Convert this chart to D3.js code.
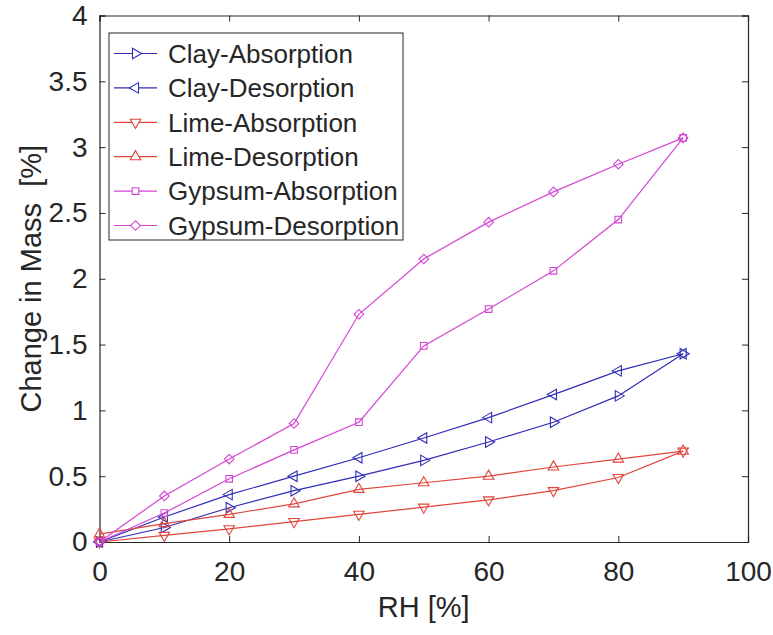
<!DOCTYPE html>
<html>
<head>
<meta charset="utf-8">
<script src="https://cdn.jsdelivr.net/npm/d3@7"></script>
<style>
  html, body { margin: 0; padding: 0; background: #fff; }
  svg text { font-family: "Liberation Sans", Arial, Helvetica, sans-serif; fill: #262626; }
</style>
</head>
<body>
<svg id="chart" width="773" height="635"></svg>
<script>
// Relative humidity steps (%)
const rh = [0, 10, 20, 30, 40, 50, 60, 70, 80, 90];

// Change in mass (%) for each material and sorption direction
const clayAbsorption   = [0, 0.11, 0.26, 0.39, 0.50, 0.62, 0.76, 0.91, 1.11, 1.43];
const clayDesorption   = [0, 0.19, 0.36, 0.50, 0.64, 0.79, 0.945, 1.12, 1.30, 1.43];
const limeAbsorption   = [0, 0.05, 0.10, 0.155, 0.21, 0.265, 0.32, 0.39, 0.49, 0.69];
const limeDesorption   = [0.06, 0.14, 0.21, 0.29, 0.40, 0.45, 0.50, 0.57, 0.63, 0.69];
const gypsumAbsorption = [0, 0.22, 0.48, 0.70, 0.91, 1.49, 1.77, 2.06, 2.45, 3.07];
const gypsumDesorption = [0, 0.35, 0.63, 0.90, 1.73, 2.15, 2.43, 2.66, 2.87, 3.07];

const seriesNames = ["Clay-Absorption", "Clay-Desorption", "Lime-Absorption",
                     "Lime-Desorption", "Gypsum-Absorption", "Gypsum-Desorption"];
const xTicks = [0, 20, 40, 60, 80, 100];
const yTicks = [0, 0.5, 1, 1.5, 2, 2.5, 3, 3.5, 4];

const blue = "#2e2eb8", red = "#e0463c", magenta = "#d444d4";
const series = [
  { name: seriesNames[0], values: clayAbsorption,   color: blue,    marker: "triRight" },
  { name: seriesNames[1], values: clayDesorption,   color: blue,    marker: "triLeft" },
  { name: seriesNames[2], values: limeAbsorption,   color: red,     marker: "triDown" },
  { name: seriesNames[3], values: limeDesorption,   color: red,     marker: "triUp" },
  { name: seriesNames[4], values: gypsumAbsorption, color: magenta, marker: "square" },
  { name: seriesNames[5], values: gypsumDesorption, color: magenta, marker: "diamond" }
];

const svg = d3.select("#chart");
const plot = { left: 99.5, top: 15.5, right: 748, bottom: 542 };

const x = d3.scaleLinear().domain([0, 100]).range([plot.left, plot.right]);
const y = d3.scaleLinear().domain([0, 4]).range([plot.bottom, plot.top]);

// Marker shapes
function markerPath(kind) {
  switch (kind) {
    case "triUp":    return { d: d3.symbol(d3.symbolTriangle, 48)(), rot: 0 };
    case "triDown":  return { d: d3.symbol(d3.symbolTriangle, 48)(), rot: 180 };
    case "triLeft":  return { d: d3.symbol(d3.symbolTriangle, 48)(), rot: -90 };
    case "triRight": return { d: d3.symbol(d3.symbolTriangle, 48)(), rot: 90 };
    case "square":   return { d: d3.symbol(d3.symbolSquare, 44)(), rot: 0 };
    case "diamond":  return { d: d3.symbol(d3.symbolSquare, 46)(), rot: 45 };
  }
}

// Axes box with inward ticks on all four sides
const tickLen = 6;
const axisColor = "#262626";

const gx = svg.append("g").attr("transform", `translate(0,${plot.bottom})`)
  .call(d3.axisBottom(x).tickValues(xTicks).tickSize(-tickLen).tickPadding(19).tickFormat(d3.format("d")));
const gxTop = svg.append("g").attr("transform", `translate(0,${plot.top})`)
  .call(d3.axisTop(x).tickValues(xTicks).tickSize(-tickLen).tickFormat(""));
const gy = svg.append("g").attr("transform", `translate(${plot.left},0)`)
  .call(d3.axisLeft(y).tickValues(yTicks).tickSize(-tickLen).tickPadding(12).tickFormat(d => d3.format("")(d)));
const gyRight = svg.append("g").attr("transform", `translate(${plot.right},0)`)
  .call(d3.axisRight(y).tickValues(yTicks).tickSize(-tickLen).tickFormat(""));

[gx, gxTop, gy, gyRight].forEach(g => {
  g.select(".domain").attr("stroke", axisColor).attr("stroke-width", 1.2);
  g.selectAll(".tick line").attr("stroke", axisColor).attr("stroke-width", 1);
  g.selectAll(".tick text").attr("font-size", 28).attr("fill", axisColor)
    .attr("font-family", "'Liberation Sans', Arial, sans-serif");
});
gx.selectAll(".tick text").attr("dy", "0.71em");

// Axis titles
svg.append("text")
  .attr("x", (plot.left + plot.right) / 2).attr("y", 617)
  .attr("text-anchor", "middle").attr("font-size", 29)
  .text("RH [%]");
svg.append("text")
  .attr("transform", `translate(41,${(plot.top + plot.bottom) / 2}) rotate(-90)`)
  .attr("text-anchor", "middle").attr("font-size", 29)
  .style("white-space", "pre")
  .text("Change in Mass  [%]");

// Lines and markers
const line = d3.line().x((d, i) => x(rh[i])).y(d => y(d));
const data = svg.append("g");
series.forEach(s => {
  data.append("path").datum(s.values)
    .attr("d", line).attr("fill", "none")
    .attr("stroke", s.color).attr("stroke-width", 1.2);
  const m = markerPath(s.marker);
  data.selectAll(null).data(s.values).join("path")
    .attr("d", m.d)
    .attr("transform", (d, i) => `translate(${x(rh[i])},${y(d)}) rotate(${m.rot})`)
    .attr("fill", "none").attr("stroke", s.color).attr("stroke-width", 1.1);
});

// Legend
const legend = svg.append("g");
const lg = { x: 109, y: 33, w: 294, h: 207, row: 34.4, first: 53.5 };
legend.append("rect")
  .attr("x", lg.x).attr("y", lg.y).attr("width", lg.w).attr("height", lg.h)
  .attr("fill", "#fff").attr("stroke", axisColor).attr("stroke-width", 1);
series.forEach((s, i) => {
  const cy = lg.first + i * lg.row;
  legend.append("line")
    .attr("x1", 114).attr("x2", 157).attr("y1", cy).attr("y2", cy)
    .attr("stroke", s.color).attr("stroke-width", 1.2);
  const m = markerPath(s.marker);
  legend.append("path").attr("d", m.d)
    .attr("transform", `translate(135.5,${cy}) rotate(${m.rot})`)
    .attr("fill", "#fff").attr("stroke", s.color).attr("stroke-width", 1.1);
  legend.append("text")
    .attr("x", 168).attr("y", cy).attr("dy", "0.36em")
    .attr("font-size", 26).attr("fill", "#111")
    .text(s.name);
});
</script>
</body>
</html>
